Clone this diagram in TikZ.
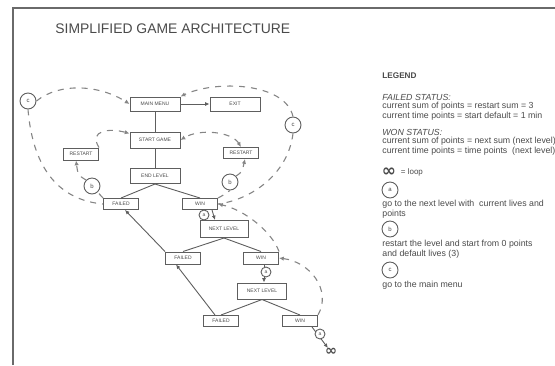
\documentclass[tikz,border=0pt]{standalone}
\usepackage{xcolor}
\usepackage{tikz}
\usetikzlibrary{arrows.meta}
\usepackage{fontspec}
\setmainfont{Liberation Sans}
\newfontfamily\symfont{DejaVu Sans}
\definecolor{ink}{HTML}{4A4A4A}
\definecolor{frameline}{HTML}{6A6A6A}
\definecolor{boxline}{HTML}{5E5E5E}
\definecolor{dashline}{HTML}{858585}

\begin{document}
\begin{tikzpicture}[x=0.5pt, y=-0.5pt,
  box/.style={draw=boxline, line width=0.5pt, fill=white, inner sep=0pt,
    minimum width=25pt, minimum height=7pt, text=ink,
    font=\fontsize{2.5}{3}\selectfont},
  smallbox/.style={box, minimum width=17.5pt, minimum height=5.5pt},
  tag/.style={circle, draw=boxline, line width=0.45pt, fill=white, inner sep=0pt,
    minimum size=5pt, text=ink, font=\fontsize{2.5}{3}\selectfont},
  bigtag/.style={tag, minimum size=8pt, font=\fontsize{3}{3}\selectfont},
  link/.style={draw=boxline, line width=0.45pt},
  flow/.style={link, -{Latex[length=2.2pt,width=2pt]}},
  dashflow/.style={draw=dashline, line width=0.55pt, dash pattern=on 3pt off 3pt},
  dasharrow/.style={dashflow, -{Latex[length=2.4pt,width=2.2pt]}},
  legendtext/.style={anchor=north west, inner sep=0pt, align=left, text=ink,
    font=\fontsize{4.4}{4.1}\selectfont}]

\useasboundingbox (0,0) rectangle (555,365);
\draw[frameline, line width=0.6pt] (13,365) -- (13,8) -- (555,8);

% title
\node[anchor=west, inner sep=0pt, text=ink, font=\fontsize{6.95}{8}\selectfont]
  (title) at (55,29) {SIMPLIFIED GAME ARCHITECTURE};

% menu part
\node[box] (menu) at (155,104) {MAIN MENU};
\node[box] (exit) at (235,104) {EXIT};
\node[box, minimum height=8pt] (start) at (155,140) {START GAME};
\node[box, minimum height=7.5pt] (endlvl) at (155,176) {END LEVEL};
\node[smallbox, minimum height=6pt] (restartL) at (81,154) {RESTART};
\node[smallbox] (restartR) at (241,153) {RESTART};

% levels
\node[smallbox] (failA) at (121,204) {FAILED};
\node[smallbox] (winA) at (200,204) {WIN};
\node[box, minimum width=24pt, minimum height=8.5pt] (nextA) at (224,229) {NEXT LEVEL};
\node[smallbox, minimum height=6pt] (failB) at (183,258) {FAILED};
\node[smallbox, minimum height=6pt] (winB) at (261,258) {WIN};
\node[box, minimum width=24.5pt, minimum height=8pt] (nextB) at (262,291) {NEXT LEVEL};
\node[smallbox] (failC) at (221,321) {FAILED};
\node[smallbox] (winC) at (300,321) {WIN};
\node[inner sep=0pt, text=ink, font=\symfont\bfseries\fontsize{7.2}{8}\selectfont]
  (loop) at (331,352) {∞};

% solid connectors
\draw[flow] (menu) -- (exit);
\draw[link] (menu) -- (start);
\draw[link] (start) -- (endlvl);
\draw[link] (endlvl.south) -- (failA.north);
\draw[link] (endlvl.south) -- (winA.north);
\draw[link] (nextA.south) -- (failB.north);
\draw[link] (nextA.south) -- (winB.north);
\draw[link] (nextB.south) -- (failC.north);
\draw[link] (nextB.south) -- (winC.north);
\draw[flow] (failB.north west) -- ([xshift=2pt]failA.south);
\draw[flow] ([xshift=-3pt]failC.north) -- ([xshift=-3.5pt]failB.south);
\draw[flow] ([xshift=6pt]winA.south) -- ([xshift=-4.5pt]nextA.north);
\draw[flow] ([xshift=1.5pt]winB.south) -- ([xshift=1pt]nextB.north);
\draw[flow] ([xshift=6pt]winC.south) -- (loop);

% a tags
\node[tag] (tagA1) at (204,215) {a};
\node[tag] (tagA2) at (266,272) {a};
\node[tag] (tagA3) at (320,334) {a};

% b and c tags
\node[bigtag] (tagCL) at (28,101) {c};
\node[bigtag] (tagCR) at (293,125) {c};
\node[bigtag] (tagBL) at (92,186) {b};
\node[bigtag] (tagBR) at (230,182) {b};

% dashed loops
\draw[dashflow] (tagCL.south) .. controls (33,170) and (60,200) .. (failA.west);
\draw[dasharrow] (tagCL.east) .. controls (60,82) and (100,85) .. (menu.west);
\draw[dasharrow] (tagCR.north) .. controls (285,82) and (215,80) .. (menu.north east);
\draw[dashflow] (tagCR.south) .. controls (288,175) and (250,200) .. (winA.east);
\draw[dasharrow] (winB.north east) .. controls (272,232) and (245,210) .. (winA.east);
\draw[dasharrow] (winC.north east) .. controls (332,290) and (310,262) .. (winB.east);
\draw[dasharrow] (restartL.north east) .. controls (88,130) and (110,128)
  .. ([yshift=-1pt]start.north west);
\draw[dashflow] (failA.north west) -- (tagBL);
\draw[dasharrow] (tagBL.north west) .. controls (78,175) .. ([xshift=-2.5pt]restartL.south);
\draw[dashflow, {Latex[length=2.4pt,width=2.2pt]}-{Latex[length=2.4pt,width=2.2pt]}]
  (restartR.north) .. controls (232,132) and (200,128) .. (start.east);
\draw[dashflow] (winA.north east) .. controls (222,196) .. (tagBR.south);
\draw[dasharrow] (tagBR.north east) .. controls (242,172) .. ([xshift=2pt]restartR.south);

% legend
\node[legendtext, font=\bfseries\fontsize{4.1}{4.5}\selectfont] (legendhead) at (382,72) {LEGEND};
\node[legendtext] (failedkey) at (382,94) {\textit{FAILED STATUS:}\\
  current sum of points = restart sum = 3\\
  current time points = start default = 1 min};
\node[legendtext] (wonkey) at (382,129) {\textit{WON STATUS:}\\
  current sum of points = next sum (next level)\\
  current time points = time points\ \ (next level)};
\node[inner sep=0pt, text=ink, font=\symfont\bfseries\fontsize{8.5}{9}\selectfont]
  (loopkey) at (389,172) {∞};
\node[legendtext, anchor=west, font=\fontsize{4}{4.5}\selectfont] (loopnote)
  at ([xshift=2pt]loopkey.east) {= loop};
\node[bigtag] (keyA) at (390,190) {a};
\node[legendtext] (keyAnote) at (382,200) {go to the next level with\ \ current lives and\\points};
\node[bigtag] (keyB) at (390,229) {b};
\node[legendtext] (keyBnote) at (382,240) {restart the level and start from 0 points\\and default lives (3)};
\node[bigtag] (keyC) at (390,270) {c};
\node[legendtext] (keyCnote) at (382,281) {go to the main menu};
\end{tikzpicture}
\end{document}
